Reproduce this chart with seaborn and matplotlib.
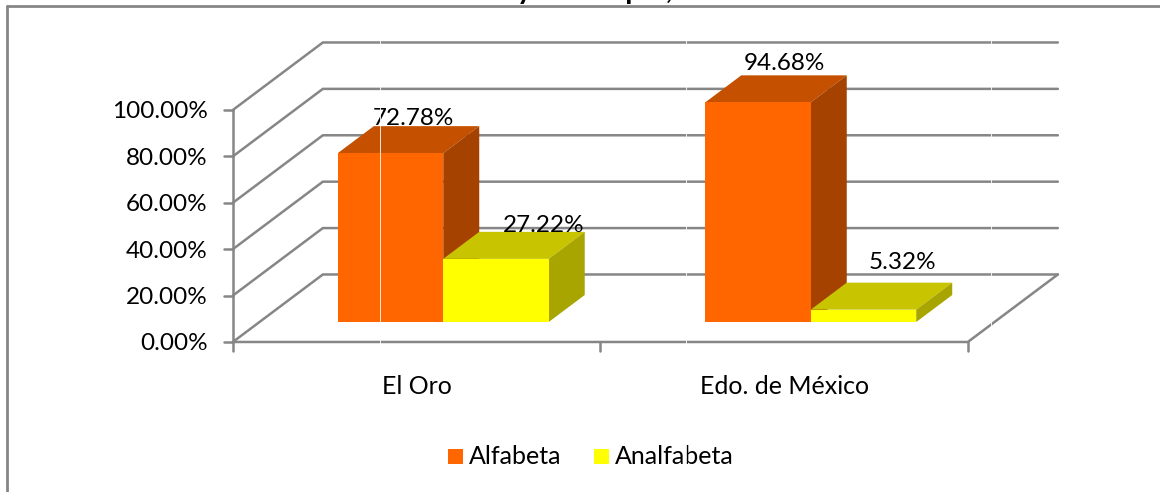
import matplotlib
matplotlib.use("Agg")
import matplotlib.pyplot as plt
import pandas as pd
import seaborn as sns
from matplotlib.patches import Polygon, Rectangle

categories = ["El Oro", "Edo. de México"]
alfabeta = [72.78, 94.68]
analfabeta = [27.22, 5.32]
series_names = ["Alfabeta", "Analfabeta"]
y_ticks = [0, 20, 40, 60, 80, 100]
title = "del estado y municipio, año 2000"

W, H = 1160, 492
FRONT = {"Alfabeta": "#FF6600", "Analfabeta": "#FFFF00"}
TOP = {"Alfabeta": "#C55000", "Analfabeta": "#C8C400"}
SIDE = {"Alfabeta": "#A54200", "Analfabeta": "#A8A400"}
GRID = "#868686"
FS = 18
FS_NUM = 17.5

# one depth unit = bar depth, in data units
PX_X = 367.5  # px per category
PX_Y = 2.32  # px per percent
DX = 36 / PX_X
DY = 27 / PX_Y
WALL_FRONT = -0.74
WALL_BACK = 1.76

sns.set_theme(style="white")
plt.rcParams["font.family"] = ["Lato", "DejaVu Sans"]

df = pd.DataFrame(
    {
        "categoria": categories * 2,
        "serie": [series_names[0]] * 2 + [series_names[1]] * 2,
        "valor": alfabeta + analfabeta,
    }
)

fig = plt.figure(figsize=(W / 100, H / 100), dpi=100)
# axes sit on the front plane of the bars
left, right = 259.5, 994.5
bottom, top = 322, 90
ax = fig.add_axes([left / W, 1 - bottom / H, (right - left) / W, (bottom - top) / H])
sns.barplot(
    data=df, x="categoria", y="valor", hue="serie", palette=FRONT,
    width=0.574, gap=0, dodge=True, saturation=1, legend=False, ax=ax, zorder=5,
    linewidth=0, edgecolor="none",
)
ax.set_xlim(-0.5, 1.5)
ax.set_ylim(0, 100)
ax.axis("off")


def proj(x, y, d):
    return (x + d * DX, y + d * DY)


# walls, axis and ticks
LW = 1.8
x0, x1 = -0.5, 1.5
for t in y_ticks:
    pts = [proj(x0, t, WALL_FRONT), proj(x0, t, WALL_BACK), proj(x1, t, WALL_BACK)]
    ax.plot(*zip(*pts), color=GRID, lw=LW, clip_on=False, zorder=1, solid_joinstyle="miter")
    fx, fy = proj(x0, t, WALL_FRONT)
    ax.plot([fx - 9 / PX_X, fx], [fy, fy], color=GRID, lw=LW, clip_on=False, zorder=1)
    ax.text(fx - 25 / PX_X, fy, f"{t:.2f}%", ha="right", va="center_baseline", fontsize=FS_NUM, color="black")

ax.plot(*zip(proj(x0, 0, WALL_FRONT), proj(x0, 100, WALL_FRONT)), color=GRID, lw=LW, clip_on=False, zorder=1)
ax.plot(*zip(proj(x0, 0, WALL_FRONT), proj(x1, 0, WALL_FRONT), proj(x1, 0, WALL_BACK)),
        color=GRID, lw=LW, clip_on=False, zorder=1)
for x in [-0.5, 0.5, 1.5]:
    fx, fy = proj(x, 0, WALL_FRONT)
    ax.plot([fx, fx], [fy, fy - 9 / PX_Y], color=GRID, lw=LW, clip_on=False, zorder=1)
for i, c in enumerate(categories):
    fx, fy = proj(i, 0, WALL_FRONT)
    ax.text(fx, fy - 45 / PX_Y, c, ha="center", va="center", fontsize=FS, color="black")

# top and side faces, labels (label offsets in px from the bar's front centre and top)
bars = [p for p in ax.patches if p.get_height() > 0]
by_serie = {series_names[0]: bars[:2], series_names[1]: bars[2:]}
order = [(0, "Alfabeta", alfabeta[0], 23, 37), (0, "Analfabeta", analfabeta[0], 48, 35),
         (1, "Alfabeta", alfabeta[1], 26, 41), (1, "Analfabeta", analfabeta[1], 39, 49)]
for cat, name, val, off_x, off_y in order:
    b = by_serie[name][cat]
    xa, xb, h = b.get_x(), b.get_x() + b.get_width(), b.get_height()
    ax.add_patch(Polygon([proj(xa, h, 0), proj(xb, h, 0), proj(xb, h, 1), proj(xa, h, 1)],
                         fc=TOP[name], ec="none", zorder=3 + cat, clip_on=False))
    ax.add_patch(Polygon([proj(xb, 0, 0), proj(xb, h, 0), proj(xb, h, 1), proj(xb, 0, 1)],
                         fc=SIDE[name], ec="none", zorder=3 + cat, clip_on=False))
    ax.text((xa + xb) / 2 + off_x / PX_X, h + off_y / PX_Y, f"{val:.2f}%", ha="center",
            va="center_baseline", fontsize=FS_NUM, color="black", zorder=8, clip_on=False)

# chart frame, title and legend in figure pixels
fig.add_artist(plt.Line2D([7 / W, 7 / W], [0, 1 - 6 / H], color=GRID, lw=2))
fig.add_artist(plt.Line2D([7 / W, 1], [1 - 6 / H, 1 - 6 / H], color=GRID, lw=2))
fig.text(589 / W, 1 + 0.5 / H, title, ha="center", va="baseline", fontsize=21, fontweight="bold", color="black")

# thin white seams that run through the reference image
for x_px in [380, 686, 991]:
    fig.add_artist(plt.Line2D([x_px / W, x_px / W], [0, 1 - 8 / H], color="white", lw=0.6, zorder=10))

for x_px, name in [(448, series_names[0]), (594, series_names[1])]:
    fig.add_artist(Rectangle((x_px / W, 1 - 464 / H), 15 / W, 15 / H, fc=FRONT[name], ec="none",
                             transform=fig.transFigure))
    fig.text((x_px + 21) / W, 1 - 457 / H, name, ha="left", va="center", fontsize=FS, color="black")

fig.savefig("out.png", dpi=100)
plt.close(fig)
